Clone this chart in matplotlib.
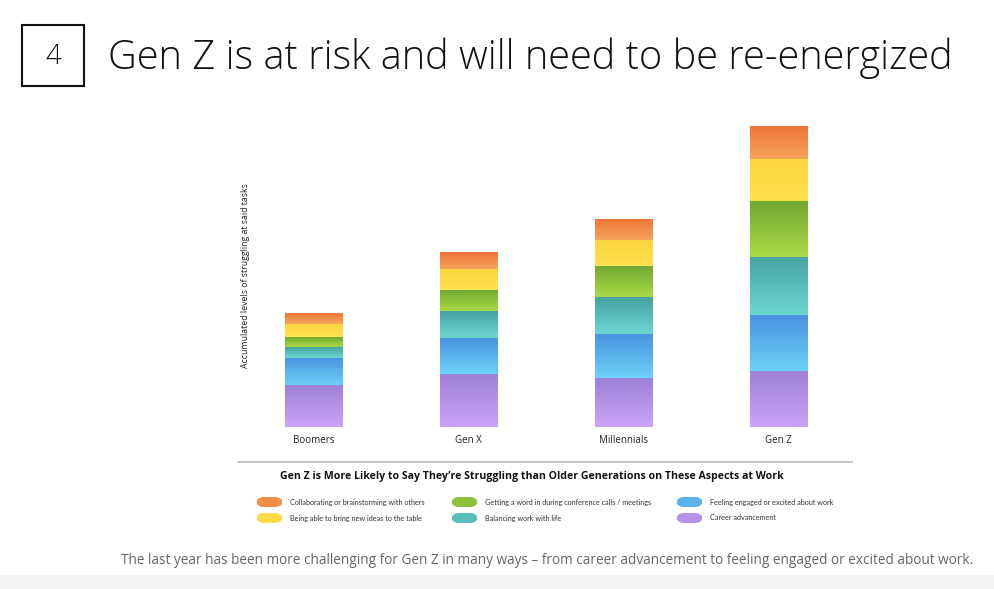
import numpy as np
import matplotlib
matplotlib.use("Agg")
import matplotlib.pyplot as plt
from matplotlib.colors import LinearSegmentedColormap
from matplotlib.patches import Rectangle, FancyBboxPatch
from matplotlib.lines import Line2D

plt.rcParams['font.family'] = ['Open Sans', 'DejaVu Sans']

# ---------------- data ----------------
generations = ["Boomers", "Gen X", "Millennials", "Gen Z"]
series_labels = [
    "Career advancement",
    "Feeling engaged or excited about work",
    "Balancing work with life",
    "Getting a word in during conference calls / meetings",
    "Being able to bring new ideas to the table",
    "Collaborating or brainstorming with others",
]
career = [42, 53, 49, 56]
engaged = [27, 36, 44, 56]
balance = [11, 27, 37, 58]
word_in = [10, 21, 31, 56]
new_ideas = [13, 21, 26, 42]
collab = [11, 17, 21, 33]
series_values = [career, engaged, balance, word_in, new_ideas, collab]

# gradient colours (top, bottom)
grad_colors = [
    ("#9e80d8", "#caa4f7"),
    ("#4a93e0", "#6cd2f8"),
    ("#47a2a2", "#6cd8d0"),
    ("#72a932", "#abda46"),
    ("#fcd43e", "#ffe24f"),
    ("#ec7536", "#f8a55c"),
]

W, H = 994, 589
fig = plt.figure(figsize=(W / 100, H / 100), dpi=100)
fig.patch.set_facecolor("white")

def fx(px):
    return px / W

def fy(py):
    return 1 - py / H

# axes: x from 236 to 856 px, y from 120 to 427 px (top-based)
ax = fig.add_axes([fx(236), fy(427), (856 - 236) / W, (427 - 120) / H])
ax.set_xlim(-0.5, 3.5)
ax.set_ylim(0, 307)
for s in ax.spines.values():
    s.set_visible(False)
ax.set_yticks([])
ax.set_xticks(range(len(generations)))
ax.set_xticklabels(generations, fontsize=7, color="#222222")
ax.tick_params(axis="x", length=0, pad=6)
ax.set_ylabel("Accumulated levels of struggling at said tasks", fontsize=6.3,
              color="#222222")
ax.yaxis.set_label_coords(fx(245), fy(276), transform=fig.transFigure)
ax.yaxis.label.set_va("center")

x = np.arange(len(generations))
bottom = np.zeros(len(generations))
width = 0.37
grad = np.linspace(0, 1, 256).reshape(-1, 1)
for vals, (ctop, cbot) in zip(series_values, grad_colors):
    vals = np.array(vals, dtype=float)
    bars = ax.bar(x, vals, width, bottom=bottom, color=cbot, edgecolor="none")
    cmap = LinearSegmentedColormap.from_list("g", [cbot, ctop])
    for b in bars:
        x0, y0 = b.get_x(), b.get_y()
        w, h = b.get_width(), b.get_height()
        im = ax.imshow(grad, cmap=cmap, aspect="auto", origin="lower",
                       extent=[x0, x0 + w, y0, y0 + h], zorder=2,
                       interpolation="bilinear")
        im.set_clip_path(b)
    bottom += vals
ax.set_xlim(-0.5, 3.5)
ax.set_ylim(0, 307)

# title & number box
fig.add_artist(Rectangle((fx(22), fy(86)), (84 - 22) / W, (86 - 25) / H,
                         transform=fig.transFigure, fill=False,
                         edgecolor="#111111", lw=1.5))
fig.text(fx(53), fy(57), "4", ha="center", va="center", fontsize=20,
         fontweight="light", color="#111111")
fig.text(fx(108), fy(58), "Gen Z is at risk and will need to be re-energized",
         ha="left", va="center", fontsize=28.6, fontweight="light", color="#111111")

# separator line
fig.add_artist(Line2D([fx(238), fx(852)], [fy(462), fy(462)],
                      transform=fig.transFigure, color="#bbbbbb", lw=1.2))

fig.text(fx(532), fy(477),
         "Gen Z is More Likely to Say They\u2019re Struggling than Older Generations on These Aspects at Work",
         ha="center", va="center", fontsize=7.6, fontweight="bold", color="#111111")

# legend (manual)
legend_order = [5, 4, 3, 2, 1, 0]
col_x = [256, 451, 676]
row_y = [502, 518]
for k, si in enumerate(legend_order):
    c, r = divmod(k, 2)
    px, py = col_x[c], row_y[r]
    ctop, cbot = grad_colors[si]
    mid = tuple((np.array(matplotlib.colors.to_rgb(ctop)) + np.array(matplotlib.colors.to_rgb(cbot))) / 2)
    fig.add_artist(FancyBboxPatch((fx(px), fy(py + 5)), 27 / W, 10 / H,
                                  boxstyle="round,pad=0,rounding_size=0.008",
                                  transform=fig.transFigure, facecolor=mid,
                                  edgecolor="none", mutation_aspect=W / H))
    fig.text(fx(px + 34), fy(py), series_labels[si], ha="left", va="center",
             fontsize=5.2, color="#333333", family=["Lato", "DejaVu Sans"])

fig.text(fx(973), fy(560),
         "The last year has been more challenging for Gen Z in many ways \u2013 from career advancement to feeling engaged or excited about work.",
         ha="right", va="center", fontsize=9.8, color="#666666")

fig.add_artist(Rectangle((0, 0), 1, 14 / H, transform=fig.transFigure,
                         facecolor="#f3f3f3", edgecolor="none"))

fig.savefig("out.png", dpi=100)
